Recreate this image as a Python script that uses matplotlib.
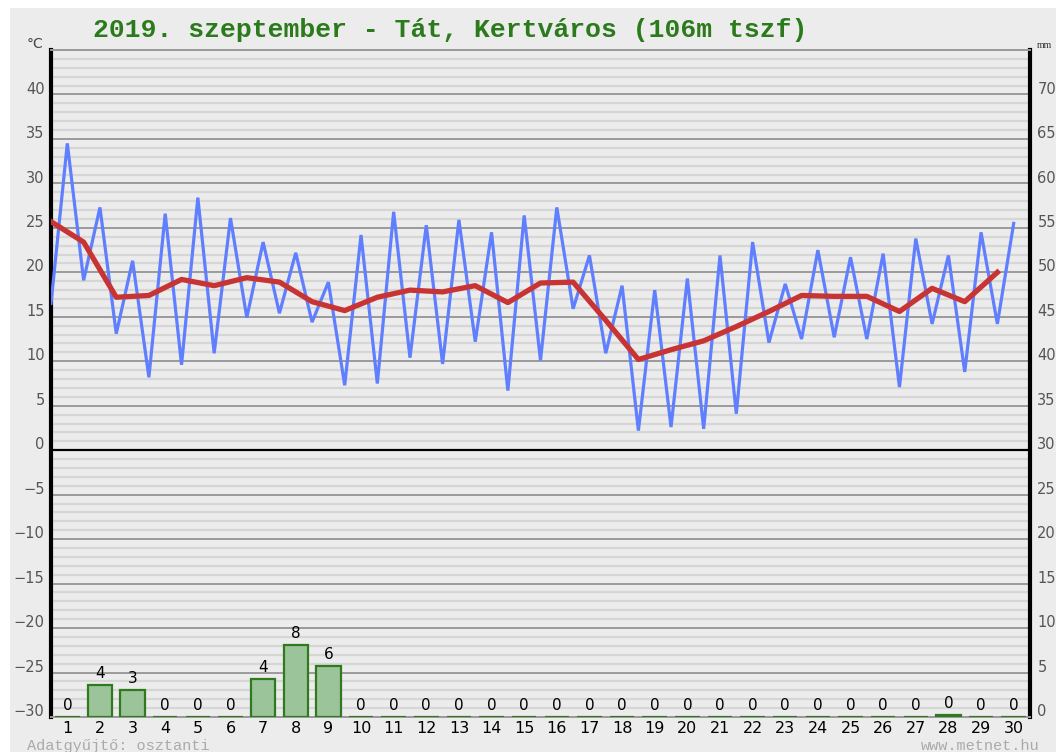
import numpy as np
import matplotlib.pyplot as plt
from matplotlib.patches import Rectangle

days = list(range(1, 31))
# daily minimum (plotted half a day before the day mark) and maximum (at the day mark)
t_min = [16.5, 19.1, 13.1, 8.2, 9.6, 10.9, 14.9, 15.4, 14.4, 7.3,
         7.5, 10.4, 9.7, 12.2, 6.7, 10.1, 15.9, 10.9, 2.2, 2.6,
         2.4, 4.1, 12.1, 12.5, 12.7, 12.5, 7.1, 14.2, 8.8, 14.2]
t_max = [34.5, 27.3, 21.3, 26.6, 28.4, 26.1, 23.4, 22.2, 18.9, 24.2,
         26.8, 25.3, 25.9, 24.5, 26.4, 27.3, 21.9, 18.5, 18.0, 19.3,
         21.9, 23.4, 18.7, 22.5, 21.7, 22.1, 23.8, 21.9, 24.5, 25.5]
t_mean = [25.7, 23.4, 17.2, 17.4, 19.2, 18.5, 19.4, 18.9, 16.7, 15.7,
          17.2, 18.0, 17.8, 18.5, 16.6, 18.8, 18.9, 14.6, 10.2, 11.3,
          12.3, 13.9, 15.6, 17.4, 17.3, 17.3, 15.6, 18.2, 16.7, 20.0]
rain = [0, 3.6, 3.0, 0, 0, 0, 4.3, 8.1, 5.7, 0,
        0, 0, 0, 0, 0, 0, 0, 0, 0, 0,
        0, 0, 0, 0, 0, 0, 0, 0.2, 0, 0]

title = "2019. szeptember - Tát, Kertváros (106m tszf)"
left_ticks = list(range(-30, 41, 5))
right_ticks = list(range(0, 71, 5))

W, H = 1056, 752
fig = plt.figure(figsize=(W / 100, H / 100), dpi=100, facecolor='white')
fig.add_artist(Rectangle((10 / W, 0), 1, 1 - 8 / H, transform=fig.transFigure,
                         facecolor='#ececec', edgecolor='none', zorder=-10))

ax = fig.add_axes([51 / W, 35 / H, 979 / W, 667 / H])
ax.set_facecolor('#ececec')
ax.set_xlim(0.5, 30.5)
ax.set_ylim(-30, 45)

# grid
for v in range(-30, 46):
    if v % 5 == 0:
        ax.axhline(v, color='#9a9a9a', lw=1.4, zorder=1)
    else:
        ax.axhline(v, color='#d6d6d6', lw=1.6, zorder=0.5)
ax.axhline(0, color='black', lw=1.6, zorder=2)

for side in ['top', 'bottom']:
    ax.spines[side].set_color('#9a9a9a')
    ax.spines[side].set_linewidth(1.4)
for side in ['left', 'right']:
    ax.spines[side].set_color('black')
    ax.spines[side].set_linewidth(3)

# temperature
x_blue, y_blue = [], []
for d, lo, hi in zip(days, t_min, t_max):
    x_blue += [d - 0.5, d]
    y_blue += [lo, hi]
ax.plot(x_blue, y_blue, color='#5f7fff', lw=2.3, zorder=4, solid_joinstyle='miter')
ax.plot([d - 0.5 for d in days], t_mean, color='#c83434', lw=3.8, zorder=5)

# precipitation (right axis: mm = degC + 30)
ax.bar(days, rain, bottom=-30, width=0.75, color='#9cc49a',
       edgecolor='#2f7a1c', linewidth=1.6, zorder=3)
for d, r in zip(days, rain):
    ax.annotate(str(int(round(r))), (d, -30 + r), xytext=(0, 3),
                textcoords='offset points', ha='center', va='bottom',
                fontsize=11, color='black', zorder=6)

# ticks
ax.set_yticks([])
ax.set_xticks(days)
ax.set_xticklabels([str(d) for d in days], fontsize=11.5, color='black')
ax.tick_params(axis='x', length=0, pad=3)

ytr = ax.get_yaxis_transform()
for v in left_ticks:
    ax.text(-0.0065, v + 0.6, str(v).replace('-', '\u2212'), transform=ytr,
            ha='right', va='center', fontsize=10.5, color='#555555', clip_on=False)
for v in right_ticks:
    ax.text(1.0075, v - 30 + 0.6, str(v), transform=ytr, ha='left', va='center',
            fontsize=10.5, color='#555555', clip_on=False)

fig.text(35 / W, 1 - 44 / H, '°C', ha='center', va='center', fontsize=10, color='#444444')
fig.text(1037 / W, 1 - 45 / H, 'mm', ha='left', va='center', fontsize=7,
         family='Liberation Serif', color='#333333')

fig.text(93 / W, 1 - 30 / H, title, ha='left', va='center', fontsize=19,
         family='Liberation Mono', weight='bold', color='#2b7a1b')

fig.text(27 / W, 1 - 746 / H, 'Adatgyűjtő: osztanti', ha='left', va='center',
         fontsize=11, family='Liberation Mono', color='#aaaaaa')
fig.text(1040 / W, 1 - 746 / H, 'www.metnet.hu', ha='right', va='center',
         fontsize=11, family='Liberation Mono', color='#aaaaaa')

fig.savefig('out.png', dpi=100, facecolor=fig.get_facecolor())
